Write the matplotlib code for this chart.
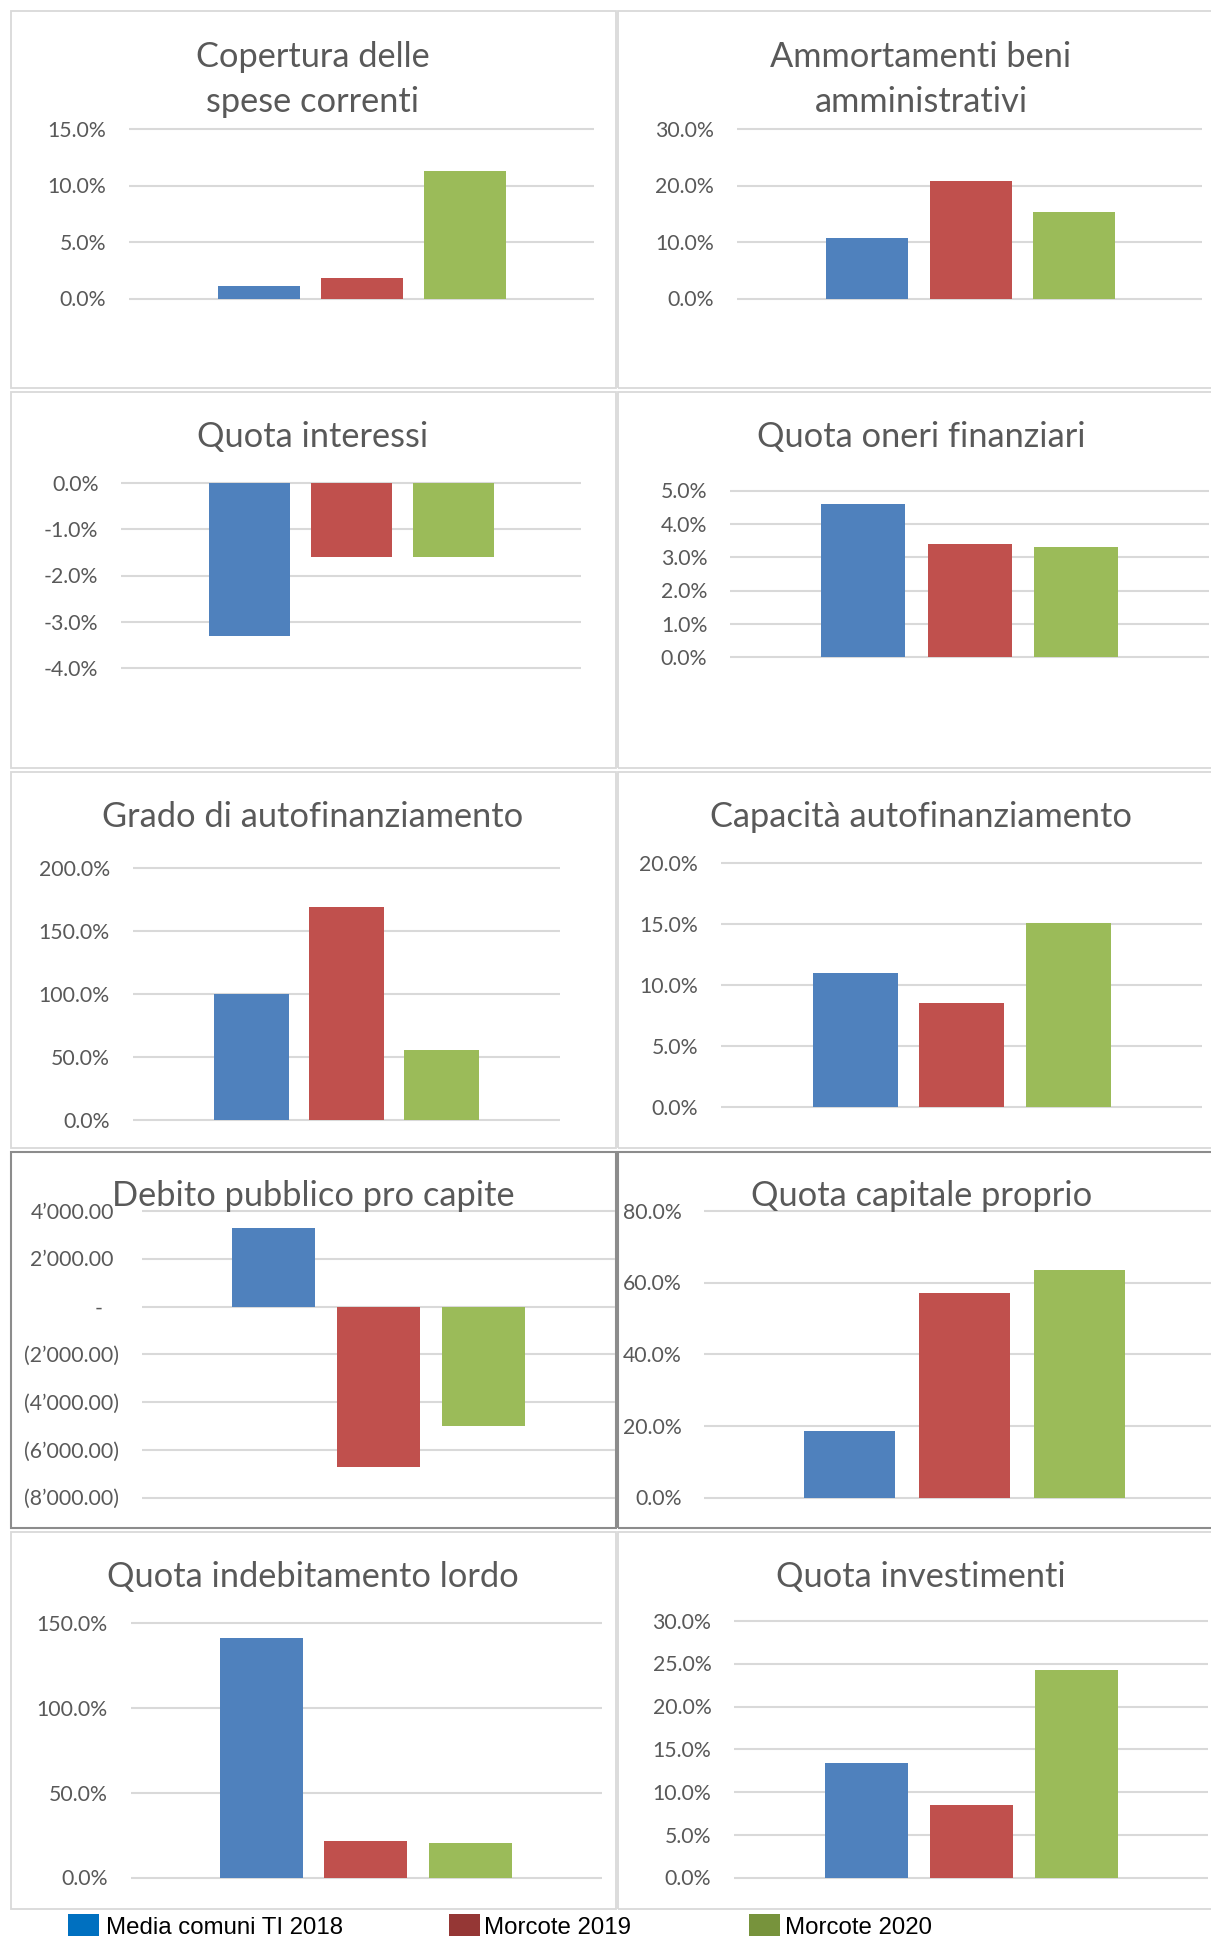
import matplotlib
matplotlib.use("Agg")
import matplotlib.pyplot as plt
from matplotlib.patches import Rectangle
from matplotlib.transforms import offset_copy

# ---------------- data ----------------
series = ["Media comuni TI 2018", "Morcote 2019", "Morcote 2020"]
bar_colors = ["#4F81BD", "#C0504D", "#9BBB59"]
legend_colors = ["#0070C0", "#953735", "#77933C"]

copertura = [1.1, 1.8, 11.3]
ammortamenti = [10.8, 20.8, 15.3]
interessi = [-3.3, -1.6, -1.6]
oneri = [4.6, 3.4, 3.3]
grado = [100.0, 169.3, 55.8]
capacita = [11.0, 8.5, 15.1]
debito = [3300, -6700, -5000]
capitale = [18.6, 57.1, 63.5]
indebitamento = [141.3, 21.6, 20.4]
investimenti = [13.4, 8.5, 24.3]

ticks_copertura = [0, 5, 10, 15]
ticks_ammortamenti = [0, 10, 20, 30]
ticks_interessi = [-4, -3, -2, -1, 0]
ticks_oneri = [0, 1, 2, 3, 4, 5]
ticks_grado = [0, 50, 100, 150, 200]
ticks_capacita = [0, 5, 10, 15, 20]
ticks_debito = [-8000, -6000, -4000, -2000, 0, 2000, 4000]
ticklabels_debito = ["(8’000.00)", "(6’000.00)", "(4’000.00)", "(2’000.00)",
                     "-", "2’000.00", "4’000.00"]
ticks_capitale = [0, 20, 40, 60, 80]
ticks_indebitamento = [0, 50, 100, 150]
ticks_investimenti = [0, 5, 10, 15, 20, 25, 30]

# ---------------- layout (pixel geometry of the reference) ----------------
W, H, DPI = 1211, 1936, 100
TXT = "#595959"
GRID = "#D9D9D9"
COLS = {"L": (10.7, 615.5), "R": (618.0, 1225.0)}
ROWS = [(11.0, 388.3), (391.7, 768.3), (771.7, 1148.3), (1152.3, 1528.3), (1531.7, 1909.0)]

panels = [
    dict(col="L", row=0, title=["Copertura delle", "spese correnti"], base=[66.7, 112.0], cx=313,
         vals=copertura, ticks=ticks_copertura, grid=(128.9, 594.3, 129.3, 298.7), bars=(258.9, 103.0, 82.0)),
    dict(col="R", row=0, title=["Ammortamenti beni", "amministrativi"], base=[66.7, 112.0], cx=921,
         vals=ammortamenti, ticks=ticks_ammortamenti, grid=(737.0, 1202.2, 129.3, 298.7), bars=(867.0, 103.5, 82.0)),
    dict(col="L", row=1, title=["Quota interessi"], base=[446.7], cx=313,
         vals=interessi, ticks=ticks_interessi, grid=(121.4, 580.5, 483.0, 668.3), bars=(249.6, 101.8, 80.8)),
    dict(col="R", row=1, title=["Quota oneri finanziari"], base=[446.7], cx=921.5,
         vals=oneri, ticks=ticks_oneri, grid=(730.2, 1208.7, 490.7, 657.3), bars=(863.0, 106.5, 84.0)),
    dict(col="L", row=2, title=["Grado di autofinanziamento"], base=[826.7], cx=312.8,
         vals=grado, ticks=ticks_grado, grid=(132.9, 559.5, 868.3, 1120.3), bars=(251.4, 95.1, 75.0)),
    dict(col="R", row=2, title=["Capacità autofinanziamento"], base=[827.0], cx=921,
         vals=capacita, ticks=ticks_capacita, grid=(721.0, 1202.0, 863.0, 1107.0), bars=(855.5, 106.45, 85.0)),
    dict(col="L", row=3, title=["Debito pubblico pro capite"], base=[1206.0], cx=313,
         vals=debito, ticks=ticks_debito, labels=ticklabels_debito,
         grid=(141.6, 615.0, 1211.0, 1497.7), bars=(273.5, 105.0, 83.0), dark=True),
    dict(col="R", row=3, title=["Quota capitale proprio"], base=[1206.0], cx=921.5,
         vals=capitale, ticks=ticks_capitale, grid=(704.4, 1211.0, 1211.0, 1497.7), bars=(849.7, 114.9, 91.0), dark=True),
    dict(col="L", row=4, title=["Quota indebitamento lordo"], base=[1586.7], cx=313,
         vals=indebitamento, ticks=ticks_indebitamento, grid=(130.5, 601.8, 1623.3, 1877.7), bars=(261.3, 104.6, 83.0)),
    dict(col="R", row=4, title=["Quota investimenti"], base=[1586.7], cx=921,
         vals=investimenti, ticks=ticks_investimenti, grid=(734.3, 1208.0, 1621.0, 1877.7), bars=(866.5, 105.1, 83.3)),
]

plt.rcParams["font.family"] = ["Lato", "DejaVu Sans"]
fig = plt.figure(figsize=(W / DPI, H / DPI), dpi=DPI)
fig.patch.set_facecolor("white")

# --- fit font sizes to the measured text widths of the reference ---
renderer = fig.canvas.get_renderer()
def fit(text, target_px, family=None):
    kw = {} if family is None else {"family": family}
    t = fig.text(0, 0, text, fontsize=20, **kw)
    w = t.get_window_extent(renderer).width
    t.remove()
    return 20 * target_px / w

title_fs = fit("Quota oneri finanziari", 329.0)
tick_fs = (fit("10.0%", 58.9) + fit("5.0%", 46.8)) / 2
legend_fs = 24 * 72 / DPI

def fx(x):
    return x / W

def fy(y):
    return 1 - y / H

# --- panel borders ---
for p in panels:
    x0, x1 = COLS[p["col"]]
    y0, y1 = ROWS[p["row"]]
    dark = p.get("dark", False)
    fig.add_artist(Rectangle((fx(x0), fy(y1)), (x1 - x0) / W, (y1 - y0) / H,
                             transform=fig.transFigure, fill=False,
                             ec="#8C8C8C" if dark else "#D9D9D9",
                             lw=1.5 if dark else 1.3, zorder=0))

tick_px = tick_fs * DPI / 72
for p in panels:
    gx0, gx1, gyt, gyb = p["grid"]
    c0, d, bw = p["bars"]
    ax = fig.add_axes([fx(gx0), fy(gyb), (gx1 - gx0) / W, (gyb - gyt) / H])
    ax.set_facecolor("none")
    for s in ax.spines.values():
        s.set_visible(False)
    ticks = p["ticks"]
    ax.set_ylim(min(ticks), max(ticks))
    ax.set_xlim((gx0 - c0) / d, (gx1 - c0) / d)
    ax.set_xticks([])
    ax.set_yticks([])
    ax.hlines(ticks, 0, 1, transform=ax.get_yaxis_transform(), colors=GRID,
              lw=1.5, zorder=1, clip_on=False)
    ax.bar(range(len(p["vals"])), p["vals"], width=bw / d, color=bar_colors, zorder=3)
    labels = p.get("labels", [f"{t:.1f}%" for t in ticks])
    for t, lab in zip(ticks, labels):
        off = 23.0
        if "labels" in p:
            if lab == "-":
                off = 39.0
            elif not lab.startswith("("):
                off = 27.7
        tr = offset_copy(ax.get_yaxis_transform(), fig=fig, x=-off, y=-0.36 * tick_px, units="dots")
        ax.text(0, t, lab, transform=tr, ha="right", va="baseline",
                fontsize=tick_fs, color=TXT, clip_on=False)
    for line, b in zip(p["title"], p["base"]):
        fig.text(fx(p["cx"]), fy(b), line, ha="center", va="baseline",
                 fontsize=title_fs, color=TXT, zorder=5)

# --- legend ---
leg_sq = [(68.0, 99.0), (449.0, 480.0), (749.0, 780.0)]
leg_tx = [105.8, 484.2, 785.3]
for (sx0, sx1), tx, name, col in zip(leg_sq, leg_tx, series, legend_colors):
    fig.add_artist(Rectangle((fx(sx0), fy(1945)), (sx1 - sx0) / W, (1945 - 1914.3) / H,
                             transform=fig.transFigure, fc=col, ec="none"))
    fig.text(fx(tx), fy(1934.0), name, ha="left", va="baseline",
             fontsize=legend_fs, color="black", family=["Liberation Sans", "DejaVu Sans"])

fig.savefig("out.png", dpi=DPI, facecolor="white")
